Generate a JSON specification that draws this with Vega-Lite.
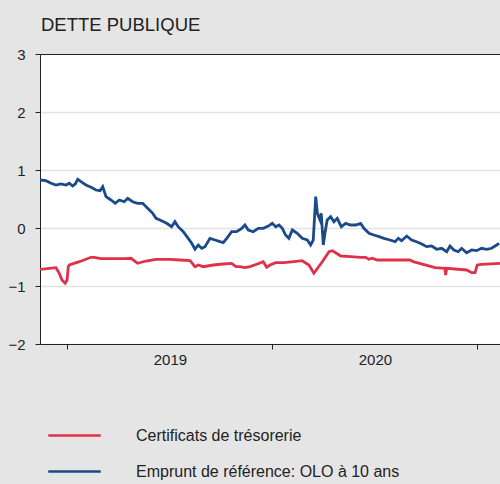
{
  "$schema": "https://vega.github.io/schema/vega-lite/v6.json",
  "autosize": "none",
  "width": 460,
  "height": 290,
  "padding": {"left": 40, "top": 54, "right": 0, "bottom": 140},
  "background": "#e5e5e5",
  "config": {
    "view": {"fill": "white", "stroke": null},
    "font": "Liberation Sans"
  },
  "title": {
    "text": "DETTE PUBLIQUE",
    "anchor": "start",
    "frame": "group",
    "fontSize": 18.5,
    "fontWeight": "normal",
    "color": "#222222",
    "font": "Liberation Sans",
    "baseline": "alphabetic",
    "offset": -2,
    "dx": 1
  },
  "data": {
    "values": [
      {"t": 2018.866, "v": 0.828, "s": "Emprunt de référence: OLO à 10 ans"},
      {"t": 2018.895, "v": 0.816, "s": "Emprunt de référence: OLO à 10 ans"},
      {"t": 2018.920, "v": 0.771, "s": "Emprunt de référence: OLO à 10 ans"},
      {"t": 2018.944, "v": 0.741, "s": "Emprunt de référence: OLO à 10 ans"},
      {"t": 2018.968, "v": 0.759, "s": "Emprunt de référence: OLO à 10 ans"},
      {"t": 2018.993, "v": 0.741, "s": "Emprunt de référence: OLO à 10 ans"},
      {"t": 2019.009, "v": 0.771, "s": "Emprunt de référence: OLO à 10 ans"},
      {"t": 2019.025, "v": 0.724, "s": "Emprunt de référence: OLO à 10 ans"},
      {"t": 2019.038, "v": 0.759, "s": "Emprunt de référence: OLO à 10 ans"},
      {"t": 2019.050, "v": 0.840, "s": "Emprunt de référence: OLO à 10 ans"},
      {"t": 2019.066, "v": 0.798, "s": "Emprunt de référence: OLO à 10 ans"},
      {"t": 2019.090, "v": 0.741, "s": "Emprunt de référence: OLO à 10 ans"},
      {"t": 2019.115, "v": 0.702, "s": "Emprunt de référence: OLO à 10 ans"},
      {"t": 2019.139, "v": 0.655, "s": "Emprunt de référence: OLO à 10 ans"},
      {"t": 2019.159, "v": 0.643, "s": "Emprunt de référence: OLO à 10 ans"},
      {"t": 2019.172, "v": 0.712, "s": "Emprunt de référence: OLO à 10 ans"},
      {"t": 2019.188, "v": 0.540, "s": "Emprunt de référence: OLO à 10 ans"},
      {"t": 2019.212, "v": 0.483, "s": "Emprunt de référence: OLO à 10 ans"},
      {"t": 2019.233, "v": 0.426, "s": "Emprunt de référence: OLO à 10 ans"},
      {"t": 2019.253, "v": 0.483, "s": "Emprunt de référence: OLO à 10 ans"},
      {"t": 2019.277, "v": 0.453, "s": "Emprunt de référence: OLO à 10 ans"},
      {"t": 2019.294, "v": 0.512, "s": "Emprunt de référence: OLO à 10 ans"},
      {"t": 2019.318, "v": 0.453, "s": "Emprunt de référence: OLO à 10 ans"},
      {"t": 2019.342, "v": 0.426, "s": "Emprunt de référence: OLO à 10 ans"},
      {"t": 2019.367, "v": 0.426, "s": "Emprunt de référence: OLO à 10 ans"},
      {"t": 2019.391, "v": 0.340, "s": "Emprunt de référence: OLO à 10 ans"},
      {"t": 2019.416, "v": 0.253, "s": "Emprunt de référence: OLO à 10 ans"},
      {"t": 2019.432, "v": 0.167, "s": "Emprunt de référence: OLO à 10 ans"},
      {"t": 2019.451, "v": 0.138, "s": "Emprunt de référence: OLO à 10 ans"},
      {"t": 2019.484, "v": 0.081, "s": "Emprunt de référence: OLO à 10 ans"},
      {"t": 2019.508, "v": 0.022, "s": "Emprunt de référence: OLO à 10 ans"},
      {"t": 2019.524, "v": 0.109, "s": "Emprunt de référence: OLO à 10 ans"},
      {"t": 2019.540, "v": 0.022, "s": "Emprunt de référence: OLO à 10 ans"},
      {"t": 2019.565, "v": -0.064, "s": "Emprunt de référence: OLO à 10 ans"},
      {"t": 2019.589, "v": -0.178, "s": "Emprunt de référence: OLO à 10 ans"},
      {"t": 2019.606, "v": -0.264, "s": "Emprunt de référence: OLO à 10 ans"},
      {"t": 2019.622, "v": -0.367, "s": "Emprunt de référence: OLO à 10 ans"},
      {"t": 2019.638, "v": -0.293, "s": "Emprunt de référence: OLO à 10 ans"},
      {"t": 2019.655, "v": -0.350, "s": "Emprunt de référence: OLO à 10 ans"},
      {"t": 2019.671, "v": -0.322, "s": "Emprunt de référence: OLO à 10 ans"},
      {"t": 2019.695, "v": -0.178, "s": "Emprunt de référence: OLO à 10 ans"},
      {"t": 2019.720, "v": -0.207, "s": "Emprunt de référence: OLO à 10 ans"},
      {"t": 2019.744, "v": -0.236, "s": "Emprunt de référence: OLO à 10 ans"},
      {"t": 2019.760, "v": -0.253, "s": "Emprunt de référence: OLO à 10 ans"},
      {"t": 2019.777, "v": -0.178, "s": "Emprunt de référence: OLO à 10 ans"},
      {"t": 2019.801, "v": -0.064, "s": "Emprunt de référence: OLO à 10 ans"},
      {"t": 2019.825, "v": -0.064, "s": "Emprunt de référence: OLO à 10 ans"},
      {"t": 2019.850, "v": -0.005, "s": "Emprunt de référence: OLO à 10 ans"},
      {"t": 2019.866, "v": 0.052, "s": "Emprunt de référence: OLO à 10 ans"},
      {"t": 2019.882, "v": -0.034, "s": "Emprunt de référence: OLO à 10 ans"},
      {"t": 2019.906, "v": -0.064, "s": "Emprunt de référence: OLO à 10 ans"},
      {"t": 2019.931, "v": -0.005, "s": "Emprunt de référence: OLO à 10 ans"},
      {"t": 2019.955, "v": -0.005, "s": "Emprunt de référence: OLO à 10 ans"},
      {"t": 2019.980, "v": 0.034, "s": "Emprunt de référence: OLO à 10 ans"},
      {"t": 2019.999, "v": 0.081, "s": "Emprunt de référence: OLO à 10 ans"},
      {"t": 2020.016, "v": 0.022, "s": "Emprunt de référence: OLO à 10 ans"},
      {"t": 2020.032, "v": 0.052, "s": "Emprunt de référence: OLO à 10 ans"},
      {"t": 2020.048, "v": -0.005, "s": "Emprunt de référence: OLO à 10 ans"},
      {"t": 2020.064, "v": -0.121, "s": "Emprunt de référence: OLO à 10 ans"},
      {"t": 2020.080, "v": -0.178, "s": "Emprunt de référence: OLO à 10 ans"},
      {"t": 2020.097, "v": -0.034, "s": "Emprunt de référence: OLO à 10 ans"},
      {"t": 2020.121, "v": -0.091, "s": "Emprunt de référence: OLO à 10 ans"},
      {"t": 2020.145, "v": -0.178, "s": "Emprunt de référence: OLO à 10 ans"},
      {"t": 2020.170, "v": -0.207, "s": "Emprunt de référence: OLO à 10 ans"},
      {"t": 2020.186, "v": -0.293, "s": "Emprunt de référence: OLO à 10 ans"},
      {"t": 2020.199, "v": -0.207, "s": "Emprunt de référence: OLO à 10 ans"},
      {"t": 2020.211, "v": 0.540, "s": "Emprunt de référence: OLO à 10 ans"},
      {"t": 2020.219, "v": 0.253, "s": "Emprunt de référence: OLO à 10 ans"},
      {"t": 2020.232, "v": 0.138, "s": "Emprunt de référence: OLO à 10 ans"},
      {"t": 2020.238, "v": 0.253, "s": "Emprunt de référence: OLO à 10 ans"},
      {"t": 2020.248, "v": -0.293, "s": "Emprunt de référence: OLO à 10 ans"},
      {"t": 2020.256, "v": -0.091, "s": "Emprunt de référence: OLO à 10 ans"},
      {"t": 2020.267, "v": 0.138, "s": "Emprunt de référence: OLO à 10 ans"},
      {"t": 2020.284, "v": 0.195, "s": "Emprunt de référence: OLO à 10 ans"},
      {"t": 2020.300, "v": 0.109, "s": "Emprunt de référence: OLO à 10 ans"},
      {"t": 2020.316, "v": 0.167, "s": "Emprunt de référence: OLO à 10 ans"},
      {"t": 2020.336, "v": 0.022, "s": "Emprunt de référence: OLO à 10 ans"},
      {"t": 2020.357, "v": 0.081, "s": "Emprunt de référence: OLO à 10 ans"},
      {"t": 2020.381, "v": 0.052, "s": "Emprunt de référence: OLO à 10 ans"},
      {"t": 2020.406, "v": 0.052, "s": "Emprunt de référence: OLO à 10 ans"},
      {"t": 2020.430, "v": 0.081, "s": "Emprunt de référence: OLO à 10 ans"},
      {"t": 2020.446, "v": -0.005, "s": "Emprunt de référence: OLO à 10 ans"},
      {"t": 2020.471, "v": -0.091, "s": "Emprunt de référence: OLO à 10 ans"},
      {"t": 2020.495, "v": -0.121, "s": "Emprunt de référence: OLO à 10 ans"},
      {"t": 2020.520, "v": -0.150, "s": "Emprunt de référence: OLO à 10 ans"},
      {"t": 2020.544, "v": -0.178, "s": "Emprunt de référence: OLO à 10 ans"},
      {"t": 2020.573, "v": -0.207, "s": "Emprunt de référence: OLO à 10 ans"},
      {"t": 2020.598, "v": -0.236, "s": "Emprunt de référence: OLO à 10 ans"},
      {"t": 2020.614, "v": -0.178, "s": "Emprunt de référence: OLO à 10 ans"},
      {"t": 2020.630, "v": -0.219, "s": "Emprunt de référence: OLO à 10 ans"},
      {"t": 2020.655, "v": -0.138, "s": "Emprunt de référence: OLO à 10 ans"},
      {"t": 2020.679, "v": -0.207, "s": "Emprunt de référence: OLO à 10 ans"},
      {"t": 2020.703, "v": -0.236, "s": "Emprunt de référence: OLO à 10 ans"},
      {"t": 2020.728, "v": -0.276, "s": "Emprunt de référence: OLO à 10 ans"},
      {"t": 2020.752, "v": -0.322, "s": "Emprunt de référence: OLO à 10 ans"},
      {"t": 2020.777, "v": -0.310, "s": "Emprunt de référence: OLO à 10 ans"},
      {"t": 2020.801, "v": -0.367, "s": "Emprunt de référence: OLO à 10 ans"},
      {"t": 2020.825, "v": -0.350, "s": "Emprunt de référence: OLO à 10 ans"},
      {"t": 2020.850, "v": -0.409, "s": "Emprunt de référence: OLO à 10 ans"},
      {"t": 2020.866, "v": -0.310, "s": "Emprunt de référence: OLO à 10 ans"},
      {"t": 2020.885, "v": -0.379, "s": "Emprunt de référence: OLO à 10 ans"},
      {"t": 2020.906, "v": -0.409, "s": "Emprunt de référence: OLO à 10 ans"},
      {"t": 2020.923, "v": -0.350, "s": "Emprunt de référence: OLO à 10 ans"},
      {"t": 2020.947, "v": -0.426, "s": "Emprunt de référence: OLO à 10 ans"},
      {"t": 2020.972, "v": -0.379, "s": "Emprunt de référence: OLO à 10 ans"},
      {"t": 2020.996, "v": -0.391, "s": "Emprunt de référence: OLO à 10 ans"},
      {"t": 2021.020, "v": -0.350, "s": "Emprunt de référence: OLO à 10 ans"},
      {"t": 2021.045, "v": -0.367, "s": "Emprunt de référence: OLO à 10 ans"},
      {"t": 2021.069, "v": -0.350, "s": "Emprunt de référence: OLO à 10 ans"},
      {"t": 2021.094, "v": -0.293, "s": "Emprunt de référence: OLO à 10 ans"},
      {"t": 2021.106, "v": -0.264, "s": "Emprunt de référence: OLO à 10 ans"},
      {"t": 2018.866, "v": -0.712, "s": "Certificats de trésorerie"},
      {"t": 2018.944, "v": -0.684, "s": "Certificats de trésorerie"},
      {"t": 2018.960, "v": -0.781, "s": "Certificats de trésorerie"},
      {"t": 2018.973, "v": -0.897, "s": "Certificats de trésorerie"},
      {"t": 2018.989, "v": -0.953, "s": "Certificats de trésorerie"},
      {"t": 2018.998, "v": -0.897, "s": "Certificats de trésorerie"},
      {"t": 2019.004, "v": -0.667, "s": "Certificats de trésorerie"},
      {"t": 2019.009, "v": -0.638, "s": "Certificats de trésorerie"},
      {"t": 2019.058, "v": -0.581, "s": "Certificats de trésorerie"},
      {"t": 2019.115, "v": -0.505, "s": "Certificats de trésorerie"},
      {"t": 2019.131, "v": -0.505, "s": "Certificats de trésorerie"},
      {"t": 2019.163, "v": -0.529, "s": "Certificats de trésorerie"},
      {"t": 2019.220, "v": -0.529, "s": "Certificats de trésorerie"},
      {"t": 2019.285, "v": -0.529, "s": "Certificats de trésorerie"},
      {"t": 2019.310, "v": -0.522, "s": "Certificats de trésorerie"},
      {"t": 2019.342, "v": -0.609, "s": "Certificats de trésorerie"},
      {"t": 2019.383, "v": -0.569, "s": "Certificats de trésorerie"},
      {"t": 2019.432, "v": -0.540, "s": "Certificats de trésorerie"},
      {"t": 2019.500, "v": -0.540, "s": "Certificats de trésorerie"},
      {"t": 2019.549, "v": -0.552, "s": "Certificats de trésorerie"},
      {"t": 2019.598, "v": -0.564, "s": "Certificats de trésorerie"},
      {"t": 2019.622, "v": -0.667, "s": "Certificats de trésorerie"},
      {"t": 2019.638, "v": -0.638, "s": "Certificats de trésorerie"},
      {"t": 2019.662, "v": -0.667, "s": "Certificats de trésorerie"},
      {"t": 2019.711, "v": -0.638, "s": "Certificats de trésorerie"},
      {"t": 2019.760, "v": -0.621, "s": "Certificats de trésorerie"},
      {"t": 2019.801, "v": -0.609, "s": "Certificats de trésorerie"},
      {"t": 2019.822, "v": -0.667, "s": "Certificats de trésorerie"},
      {"t": 2019.841, "v": -0.667, "s": "Certificats de trésorerie"},
      {"t": 2019.866, "v": -0.684, "s": "Certificats de trésorerie"},
      {"t": 2019.890, "v": -0.667, "s": "Certificats de trésorerie"},
      {"t": 2019.923, "v": -0.626, "s": "Certificats de trésorerie"},
      {"t": 2019.955, "v": -0.581, "s": "Certificats de trésorerie"},
      {"t": 2019.972, "v": -0.678, "s": "Certificats de trésorerie"},
      {"t": 2019.988, "v": -0.638, "s": "Certificats de trésorerie"},
      {"t": 2020.016, "v": -0.598, "s": "Certificats de trésorerie"},
      {"t": 2020.056, "v": -0.598, "s": "Certificats de trésorerie"},
      {"t": 2020.105, "v": -0.581, "s": "Certificats de trésorerie"},
      {"t": 2020.145, "v": -0.564, "s": "Certificats de trésorerie"},
      {"t": 2020.178, "v": -0.638, "s": "Certificats de trésorerie"},
      {"t": 2020.202, "v": -0.781, "s": "Certificats de trésorerie"},
      {"t": 2020.243, "v": -0.581, "s": "Certificats de trésorerie"},
      {"t": 2020.276, "v": -0.409, "s": "Certificats de trésorerie"},
      {"t": 2020.292, "v": -0.391, "s": "Certificats de trésorerie"},
      {"t": 2020.308, "v": -0.426, "s": "Certificats de trésorerie"},
      {"t": 2020.333, "v": -0.483, "s": "Certificats de trésorerie"},
      {"t": 2020.381, "v": -0.495, "s": "Certificats de trésorerie"},
      {"t": 2020.430, "v": -0.505, "s": "Certificats de trésorerie"},
      {"t": 2020.455, "v": -0.505, "s": "Certificats de trésorerie"},
      {"t": 2020.471, "v": -0.540, "s": "Certificats de trésorerie"},
      {"t": 2020.487, "v": -0.522, "s": "Certificats de trésorerie"},
      {"t": 2020.511, "v": -0.552, "s": "Certificats de trésorerie"},
      {"t": 2020.544, "v": -0.552, "s": "Certificats de trésorerie"},
      {"t": 2020.671, "v": -0.552, "s": "Certificats de trésorerie"},
      {"t": 2020.687, "v": -0.581, "s": "Certificats de trésorerie"},
      {"t": 2020.793, "v": -0.684, "s": "Certificats de trésorerie"},
      {"t": 2020.841, "v": -0.695, "s": "Certificats de trésorerie"},
      {"t": 2020.845, "v": -0.810, "s": "Certificats de trésorerie"},
      {"t": 2020.850, "v": -0.695, "s": "Certificats de trésorerie"},
      {"t": 2020.947, "v": -0.724, "s": "Certificats de trésorerie"},
      {"t": 2020.972, "v": -0.771, "s": "Certificats de trésorerie"},
      {"t": 2020.988, "v": -0.771, "s": "Certificats de trésorerie"},
      {"t": 2020.999, "v": -0.638, "s": "Certificats de trésorerie"},
      {"t": 2021.020, "v": -0.626, "s": "Certificats de trésorerie"},
      {"t": 2021.110, "v": -0.609, "s": "Certificats de trésorerie"}
    ]
  },
  "mark": {"type": "line", "strokeWidth": 2.8, "clip": true},
  "encoding": {
    "x": {
      "field": "t",
      "type": "quantitative",
      "scale": {"domain": [2018.866, 2021.11], "nice": false, "zero": false},
      "axis": {
        "title": null,
        "grid": false,
        "values": [2019, 2019.5, 2020, 2020.5, 2021],
        "labelExpr": "datum.value % 1 == 0.5 ? '' + floor(datum.value) : ''",
        "tickOpacity": {"condition": {"test": "datum.value % 1 == 0", "value": 1}, "value": 0},
        "tickSize": 5,
        "tickColor": "#222222",
        "domainColor": "#222222",
        "labelFontSize": 15,
        "labelColor": "#222222",
        "labelPadding": 3,
        "labelFlush": false
      }
    },
    "y": {
      "field": "v",
      "type": "quantitative",
      "scale": {"domain": [-2, 3], "nice": false, "zero": false},
      "axis": {
        "title": null,
        "values": [-2, -1, 0, 1, 2, 3],
        "grid": true,
        "gridColor": {"condition": {"test": "datum.value == 3", "value": "#222222"}, "value": "#e2e2e2"},
        "gridWidth": {"condition": {"test": "datum.value == 3", "value": 1.2}, "value": 1.5},
        "tickSize": 5,
        "tickColor": "#222222",
        "domainColor": "#222222",
        "labelFontSize": 15,
        "labelColor": "#222222",
        "labelPadding": 10,
        "labelFlush": false
      }
    },
    "color": {
      "field": "s",
      "type": "nominal",
      "scale": {
        "domain": ["Certificats de trésorerie", "Emprunt de référence: OLO à 10 ans"],
        "range": ["#e0314b", "#1a4a8a"]
      },
      "legend": {
        "title": null,
        "orient": "none",
        "legendX": 7,
        "legendY": 354,
        "direction": "vertical",
        "symbolType": "stroke",
        "symbolSize": 2750,
        "symbolStrokeWidth": 2.5,
        "labelFontSize": 16,
        "labelColor": "#222222",
        "labelOffset": 34,
        "labelLimit": 400,
        "rowPadding": -14.5,
        "padding": 0
      }
    }
  }
}
